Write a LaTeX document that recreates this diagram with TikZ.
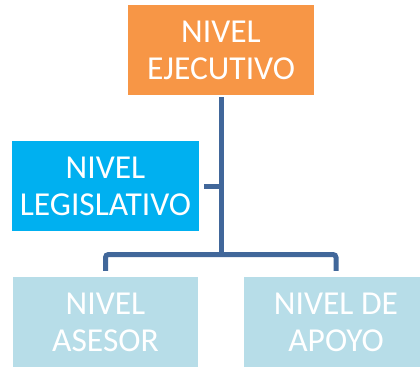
\documentclass[tikz,border=0pt]{standalone}
\usepackage{fontspec}
\setmainfont{Carlito}
\usepackage{tikz}
\usetikzlibrary{positioning}
\definecolor{ejecorange}{HTML}{F79646}
\definecolor{legisblue}{HTML}{00B0F0}
\definecolor{paleblue}{HTML}{B7DDE8}
\definecolor{linkblue}{HTML}{41679A}
\tikzset{nivel/.style={rectangle, inner sep=0pt, align=center, text=white, minimum height=90pt, font=\fontsize{33.5}{37}\selectfont},
link/.style={draw=linkblue, line width=5pt}}

\begin{document}
\begin{tikzpicture}[x=1pt, y=-1pt]
\useasboundingbox[fill=white] (0,0) rectangle (420,367);
\node[nivel, fill=ejecorange, minimum width=186pt] (exec) at (221,50) {NIVEL\\EJECUTIVO};
\node[nivel, fill=legisblue, minimum width=187pt] (legis) at (105.5,186) {NIVEL\\LEGISLATIVO};
\node[nivel, fill=paleblue, minimum width=185pt] (asesor) at (105.5,322) {NIVEL\\ASESOR};
\node[nivel, fill=paleblue, minimum width=184pt] (apoyo) at (336,322) {NIVEL DE\\APOYO};
% connectors
\coordinate (bar) at (exec.south |- 0,254.5);
\draw[link] ([yshift=-2pt]exec.south) -- (bar);
\draw[link] ([xshift=5pt]legis.east) -- (legis.east -| bar);
\draw[link, rounded corners=3pt] ([yshift=6pt]asesor.north) |- (bar) -| ([yshift=6pt]apoyo.north);
\end{tikzpicture}
\end{document}
